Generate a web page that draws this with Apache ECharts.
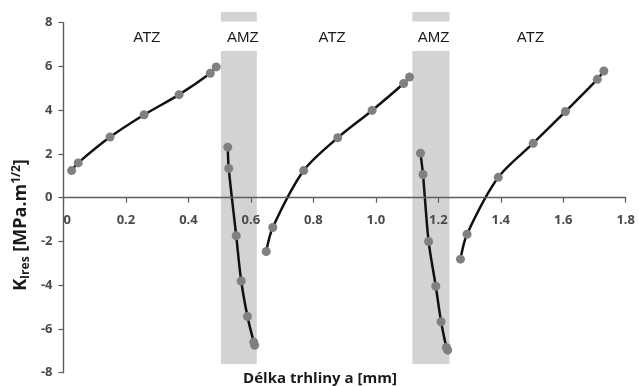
<!DOCTYPE html>
<html>
<head>
<meta charset="utf-8">
<script src="https://cdn.jsdelivr.net/npm/echarts@6/dist/echarts.min.js"></script>
<style>
  html, body { margin: 0; padding: 0; background: #fff; }
  #chart { width: 639px; height: 386px; }
</style>
</head>
<body>
<div id="chart"></div>
<script>
// crack length a [mm] vs K_Ires
const atz1 = [[0.026, 1.24], [0.047, 1.59], [0.149, 2.77], [0.258, 3.79], [0.370, 4.71], [0.470, 5.69], [0.489, 5.98]];
const amz1 = [[0.526, 2.31], [0.529, 1.34], [0.553, -1.74], [0.569, -3.81], [0.589, -5.43], [0.609, -6.60], [0.612, -6.75]];
const atz2 = [[0.649, -2.46], [0.670, -1.36], [0.769, 1.24], [0.878, 2.74], [0.988, 3.99], [1.089, 5.22], [1.108, 5.52]];
const amz2 = [[1.143, 2.03], [1.151, 1.06], [1.169, -2.00], [1.192, -4.05], [1.209, -5.67], [1.226, -6.85], [1.230, -6.97]];
const atz3 = [[1.271, -2.81], [1.292, -1.67], [1.392, 0.93], [1.504, 2.49], [1.607, 3.94], [1.709, 5.41], [1.730, 5.79]];

// shaded AMZ bands: [xStart, xEnd]
const bands = [[0.504, 0.619], [1.117, 1.236]];
const bandMain = [-7.6, 6.71];
const bandTop = [8.06, 8.49];

// zone captions: [x, y, text]
const zoneLabels = [[0.267, 7.3, 'ATZ'], [0.574, 7.3, 'AMZ'], [0.860, 7.3, 'ATZ'], [1.185, 7.3, 'AMZ'], [1.495, 7.3, 'ATZ']];

const xTickLabels = ['0', '0.2', '0.4', '0.6', '0.8', '1.0', '1.2', '1.4', '1.6', '1.8'];

const chart = echarts.init(document.getElementById('chart'));

const lineSeries = (data) => ({
  type: 'line',
  data: data,
  smooth: 0.3,
  symbol: 'circle',
  symbolSize: 9,
  showSymbol: true,
  z: 3,
  lineStyle: { color: '#111', width: 2.5 },
  itemStyle: { color: '#808080' },
});

const tickFont = {
  color: '#4a4a4a',
  fontFamily: 'Open Sans',
  fontWeight: 'bold',
  fontSize: 13,
};

const axisColor = '#5e5e5e';
const gridH = 386 - 22.7 - 13.3;

chart.setOption({
  animation: false,
  backgroundColor: '#fff',
  grid: { left: 63.5, right: 13.3, top: 22.7, bottom: 13.3, containLabel: false, outerBoundsMode: 'none' },
  xAxis: {
    type: 'value',
    position: 'bottom',
    offset: -gridH / 2, // the axis crosses at y = 0
    min: 0,
    max: 1.8,
    interval: 0.2,
    z: 4,
    splitLine: { show: false },
    axisLine: { show: true, onZero: false, lineStyle: { color: axisColor, width: 1.4 } },
    axisTick: { show: true, length: 5, lineStyle: { color: axisColor, width: 1.2 } },
    axisLabel: Object.assign({
      show: true,
      margin: 16,
      showMinLabel: true,
      showMaxLabel: true,
      alignMinLabel: 'left',
      formatter: (v, i) => xTickLabels[i] ?? String(v),
    }, tickFont),
  },
  yAxis: {
    type: 'value',
    min: -8,
    max: 8,
    interval: 2,
    splitLine: { show: false },
    axisLine: { show: true, onZero: false, lineStyle: { color: axisColor, width: 1.4 } },
    axisTick: { show: true, length: 5, lineStyle: { color: axisColor, width: 1.2 } },
    axisLabel: Object.assign({ margin: 11, showMinLabel: true, showMaxLabel: true }, tickFont),
  },
  graphic: [
    {
      type: 'text',
      x: 320,
      y: 379,
      style: {
        text: 'Délka trhliny a [mm]',
        fill: '#1a1a1a',
        font: 'bold 15px "Open Sans"',
        align: 'center',
        verticalAlign: 'middle',
      },
    },
    {
      type: 'text',
      x: 21,
      y: 225,
      rotation: Math.PI / 2,
      style: {
        text: '{k|K}{sub|Ires}{k| [MPa.m}{sup|1/2}{k|]}',
        align: 'center',
        verticalAlign: 'middle',
        rich: {
          k: { font: 'bold 18px "Open Sans"', fill: '#1a1a1a' },
          sub: { font: 'bold 12px "Open Sans"', fill: '#1a1a1a', verticalAlign: 'bottom', padding: [9, 0, 0, 0] },
          sup: { font: 'bold 12px "Open Sans"', fill: '#1a1a1a', verticalAlign: 'top', padding: [0, 0, 9, 0] },
        },
      },
    },
  ],
  series: [
    {
      type: 'custom',
      clip: false,
      z: 1,
      silent: true,
      data: bands,
      renderItem: (params, api) => {
        const x0 = api.value(0), x1 = api.value(1);
        const rect = (y0, y1) => {
          const p0 = api.coord([x0, y1]);
          const p1 = api.coord([x1, y0]);
          return {
            type: 'rect',
            shape: { x: p0[0], y: p0[1], width: p1[0] - p0[0], height: p1[1] - p0[1] },
            style: { fill: '#d3d3d3' },
          };
        };
        return { type: 'group', children: [rect(bandMain[0], bandMain[1]), rect(bandTop[0], bandTop[1])] };
      },
    },
    {
      type: 'custom',
      clip: false,
      z: 2,
      silent: true,
      data: zoneLabels,
      renderItem: (params, api) => {
        const p = api.coord([api.value(0), api.value(1)]);
        return {
          type: 'text',
          x: p[0],
          y: p[1],
          style: {
            text: zoneLabels[params.dataIndex][2],
            font: '15px "Liberation Sans"',
            fill: '#1a1a1a',
            align: 'center',
            verticalAlign: 'middle',
          },
        };
      },
    },
    lineSeries(atz1),
    lineSeries(amz1),
    lineSeries(atz2),
    lineSeries(amz2),
    lineSeries(atz3),
  ],
});
</script>
</body>
</html>
